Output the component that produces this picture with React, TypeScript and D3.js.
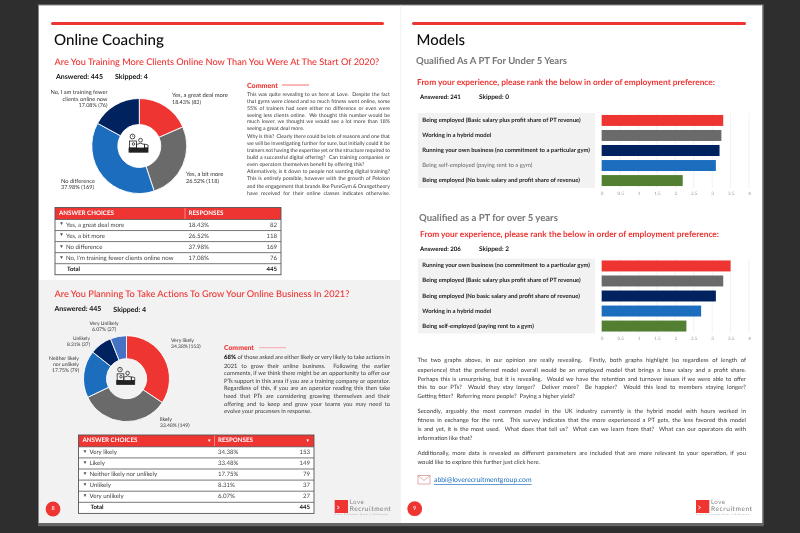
import React, { useEffect, useRef } from 'react';
import * as d3 from 'd3';

const RED = '#ee3432';
const GRAY = '#6b6b6b';
const BLUE = '#1c6dbd';
const NAVY = '#03205f';
const GREEN = '#527f30';
const LIGHT_BLUE = '#4472c4';
const FONT = 'Lato, sans-serif';

// donuts
const coachingCounts = [82, 118, 169, 76];
const coachingColors = [RED, GRAY, BLUE, NAVY];
const growthCounts = [153, 149, 79, 37, 27];
const growthColors = [RED, GRAY, BLUE, NAVY, LIGHT_BLUE];

// tables
const coachingChoices = ['Yes, a great deal more', 'Yes, a bit more', 'No difference', "No, I'm training fewer clients online now"];
const coachingPercents = ['18.43%', '26.52%', '37.98%', '17.08%'];
const growthChoices = ['Very likely', 'Likely', 'Neither likely nor unlikely', 'Unlikely', 'Very unlikely'];
const growthPercents = ['34.38%', '33.48%', '17.75%', '8.31%', '6.07%'];

// bars
const barTicks = [0, 0.5, 1, 1.5, 2, 2.5, 3, 3.5, 4];
const barColors = [RED, GRAY, NAVY, BLUE, GREEN];
const under5Labels = [
  'Being employed (Basic salary plus profit share of PT revenue)',
  'Working in a hybrid model',
  'Running your own business (no commitment to a particular gym)',
  'Being self-employed (paying rent to a gym)',
  'Being employed (No basic salary and profit share of revenue)',
];
const under5Values = [3.3, 3.25, 3.2, 3.1, 2.2];
const over5Labels = [
  'Running your own business (no commitment to a particular gym)',
  'Being employed (Basic salary plus profit share of PT revenue)',
  'Being employed (No basic salary and profit share of revenue)',
  'Working in a hybrid model',
  'Being self-employed (paying rent to a gym)',
];
const over5Values = [3.5, 3.3, 3.1, 2.7, 2.3];

// copy
const comment1 = [
  ['This was quite revealing to us here at Love.  Despite the fact', 95, 1],
  ['that gyms were closed and so much fitness went online, some', 101.8, 1],
  ['55% of trainers had seen either no difference or even were', 108.7, 1],
  ['seeing less clients online.  We thought this number would be', 115.6, 1],
  ['much lower, we thought we would see a lot more than 18%', 122.3, 1],
  ['seeing a great deal more.', 128.8, 0],
  ['Why is this?  Clearly there could be lots of reasons and one that', 137.3, 1],
  ['we will be investigating further for sure, but initially could it be', 144.3, 1],
  ['trainers not having the expertise yet or the structure required to', 151, 1],
  ['build a successful digital offering?  Can training companies or', 158, 1],
  ['even operators themselves benefit by offering this?', 165, 0],
  ['Alternatively, is it down to people not wanting digital training?', 172.3, 1],
  ['This is entirely possible, however with the growth of Peloton', 179, 1],
  ['and the engagement that brands like PureGym & Orangetheory', 186.7, 1],
  ['have received for their online classes indicates otherwise.', 193.7, 1],
] as [string, number, number][];
const comment2 = [
  ['of those asked are either likely or very likely to take actions in', 357.3, 1],
  ['2021 to grow their online business.  Following the earlier', 366, 1],
  ['comments, if we think there might be an opportunity to offer our', 373.3, 1],
  ['PTs support in this area if you are a training company or operator.', 381, 1],
  ['Regardless of this, if you are an operator reading this then take', 388.7, 1],
  ['heed that PTs are considering growing themselves and their', 396.3, 1],
  ['offering and to keep and grow your teams you may need to', 404, 1],
  ['evolve your processes in response.', 411.7, 0],
] as [string, number, number][];
const modelsCopy = [
  ['The two graphs above, in our opinion are really revealing.  Firstly, both graphs highlight (so regardless of length of', 360.3, 1],
  ['experience) that the preferred model overall would be an employed model that brings a base salary and a profit share.', 370, 1],
  ['Perhaps this is unsurprising, but it is revealing.  Would we have the retention and turnover issues if we were able to offer', 379, 1],
  ['this to our PTs?  Would they stay longer?  Deliver more?  Be happier?  Would this lead to members staying longer?', 387.3, 1],
  ['Getting fitter?  Referring more people?  Paying a higher yield?', 396, 0],
  ['Secondly, arguably the most common model in the UK industry currently is the hybrid model with hours worked in', 411.3, 1],
  ['fitness in exchange for the rent.  This survey indicates that the more experienced a PT gets, the less favored this model', 420.3, 1],
  ['is and yet, it is the most used.  What does that tell us?  What can we learn from that?  What can our operators do with', 429.3, 1],
  ['information like that?', 438.7, 0],
  ['Additionally, more data is revealed as different parameters are included that are more relevant to your operation, if you', 453.7, 1],
  ['would like to explore this further just click here.', 462.3, 0],
] as [string, number, number][];

const T = ({ x, y, size, fill = '#333', weight = 400, anchor = 'start', fit, w, spread, children, deco }: any) => (
  <text
    x={x}
    y={y}
    fontSize={size}
    fill={fill}
    fontWeight={weight}
    textAnchor={anchor}
    dominantBaseline="central"
    data-fit={fit}
    data-w={w}
    textLength={spread}
    textDecoration={deco}
    style={{ whiteSpace: 'pre' }}
  >
    {children}
  </text>
);

const Para = ({ lines, x, width, size }: any) => (
  <g>
    {lines.map((l: any, i: number) => (
      <T key={i} x={x} y={l[1]} size={size} fill="#3a3a3a" fit={l[2] ? width : undefined}>
        {l[0]}
      </T>
    ))}
  </g>
);

const CoachIcon = ({ x, y, k }: any) => (
  <g transform={`translate(${x},${y}) scale(${k})`} fill="none" stroke="#222" strokeWidth={0.8}>
    <circle cx={-6} cy={-7.5} r={2.4} />
    <path d="M-6 -8.8V-7.5H-5" strokeWidth={0.5} />
    <rect x={-9} y={-3} width={7} height={7} />
    <circle cx={-5} cy={0} r={1.3} />
    <circle cx={2} cy={-3.8} r={1.9} />
    <path d="M-2 4V0.5Q2 -2 6 0.5V4" />
    <path d="M6 0V4H9.5V1Z" />
    <rect x={-9.5} y={4} width={19} height={4.2} fill="#222" />
  </g>
);

const Donut = ({ counts, colors, cx, cy, r0, r1, k }: any) => {
  const arcs = d3.pie<number>().sort(null)(counts);
  const arc = d3.arc<d3.PieArcDatum<number>>().innerRadius(r0).outerRadius(r1);
  return (
    <g transform={`translate(${cx},${cy})`}>
      {arcs.map((a, i) => (
        <path key={i} d={arc(a) || ''} fill={colors[i]} stroke="#fff" strokeWidth={0.9} />
      ))}
      <CoachIcon x={-0.8} y={-2} k={k} />
    </g>
  );
};

const SurveyTable = ({ choices, percents, counts, x, x1, xSplit, y, headH, rowH, arrows }: any) => {
  const total = d3.sum(counts as number[]);
  const rows = [...choices, 'Total'];
  const h = headH + rows.length * rowH;
  return (
    <g>
      <rect x={x} y={y} width={x1 - x} height={h} fill="#fff" />
      <rect x={x} y={y} width={x1 - x} height={headH} fill={RED} />
      <line x1={xSplit} x2={xSplit} y1={y} y2={y + headH} stroke="#f59a98" strokeWidth={0.8} />
      <T x={x + 4} y={y + headH / 2} size={6} fill="#fff" weight={700} w={55}>ANSWER CHOICES</T>
      <T x={xSplit + 3.5} y={y + headH / 2} size={6} fill="#fff" weight={700} w={35}>RESPONSES</T>
      {arrows && <T x={xSplit - 3} y={y + headH / 2} size={4.5} fill="#fff" anchor="end">▼</T>}
      {arrows && <T x={x1 - 4} y={y + headH / 2} size={4.5} fill="#fff" anchor="end">▼</T>}
      {rows.map((r: string, i: number) => {
        const ry = y + headH + i * rowH;
        const mid = ry + rowH / 2;
        const isTotal = i === rows.length - 1;
        return (
          <g key={i}>
            <line x1={x} x2={x1} y1={ry} y2={ry} stroke="#555" strokeWidth={0.8} />
            {isTotal ? (
              <>
                <T x={x + 12} y={mid} size={6} weight={700} fill="#111">Total</T>
                <T x={x1 - 4} y={mid} size={6} weight={700} fill="#111" anchor="end">{total}</T>
              </>
            ) : (
              <>
                <T x={x + 4} y={mid - 0.6} size={5} fill="#555">▼</T>
                <T x={x + 11} y={mid} size={6.1} fill="#444">{r}</T>
                <T x={xSplit + 3.5} y={mid} size={6.1} fill="#444">{percents[i]}</T>
                <T x={x1 - 4} y={mid} size={6.1} fill="#444" anchor="end">{counts[i]}</T>
              </>
            )}
          </g>
        );
      })}
      <rect x={x} y={y} width={x1 - x} height={h} fill="none" stroke="#555" strokeWidth={0.9} />
    </g>
  );
};

const BarPanel = ({ labels, values, top, bold = [] }: any) => {
  const axisRef = useRef<SVGGElement>(null);
  const x = d3.scaleLinear().domain([0, 4]).range([601.7, 749]);
  const y = d3.scaleBand<string>().domain(labels).range([top, top + 75]).paddingInner(0.27).paddingOuter(0.13);

  useEffect(() => {
    const axis = d3.select(axisRef.current);
    axis.selectAll('*').remove();
    axis.call(d3.axisBottom(x).tickValues(barTicks).tickSize(0).tickPadding(2.5).tickFormat(d3.format('~g') as any) as any);
    axis.select('.domain').remove();
    axis.selectAll('text').attr('font-size', 4.6).attr('fill', '#999').attr('font-family', FONT);
  }, []);

  return (
    <g>
      <rect x={418} y={top} width={177} height={75} fill="#f2f2f2" />
      {barTicks.map((t) => (
        <line key={t} x1={x(t)} x2={x(t)} y1={top} y2={top + 75} stroke="#ededed" strokeWidth={0.7} />
      ))}
      {labels.map((l: string, i: number) => (
        <g key={l}>
          <rect x={x(0)} y={y(l)} width={x(values[i]) - x(0)} height={y.bandwidth()} fill={barColors[i]} />
          <T
            x={422.3}
            y={(y(l) as number) + y.bandwidth() / 2}
            size={5.9}
            weight={bold[i] === 0 ? 400 : 700}
            fill={bold[i] === 0 ? '#666' : '#222'}
          >
            {l}
          </T>
        </g>
      ))}
      <g ref={axisRef} transform={`translate(0,${top + 76})`} />
    </g>
  );
};

const Logo = ({ x, y }: any) => (
  <g>
    <rect x={x} y={y} width={13.3} height={13} fill={RED} />
    <path d={`M${x + 2.5} ${y + 6}l2 1.5l-2 1.5`} fill="none" stroke="#fff" strokeWidth={0.9} />
    <T x={x + 15} y={y + 2.6} size={6.2} fill="#888" spread={14}>Love</T>
    <T x={x + 15} y={y + 9.4} size={6.6} fill="#777" spread={41}>Recruitment</T>
    <T x={x} y={y + 15.2} size={2.1} fill="#999" spread={53}>Every Placement Makes A Difference</T>
  </g>
);

const App = () => {
  const svgRef = useRef<SVGSVGElement>(null);

  useEffect(() => {
    const svg = d3.select(svgRef.current);
    // headings: scale the size until the line is as wide as on the page
    svg.selectAll<SVGTextElement, unknown>('text[data-w]').each(function () {
      const target = +(this.getAttribute('data-w') as string);
      const size = +(this.getAttribute('font-size') as string);
      this.setAttribute('font-size', String((size * target) / this.getComputedTextLength()));
    });
    // stretch justified lines by word spacing, like the page layout did
    svg.selectAll<SVGTextElement, unknown>('text[data-fit]').each(function () {
      const target = +(this.getAttribute('data-fit') as string);
      const spaces = (this.textContent || '').split(' ').length - 1;
      if (spaces > 0) this.style.wordSpacing = `${(target - this.getComputedTextLength()) / spaces}px`;
    });
  }, []);

  return (
    <svg
      ref={svgRef}
      width={800}
      height={533}
      fontFamily={FONT}
      textRendering="geometricPrecision"
      style={{ position: 'absolute', left: 0, top: 0 }}
    >
      <defs>
        <filter id="soft" x="0" y="0" width="800" height="533" filterUnits="userSpaceOnUse">
          <feGaussianBlur stdDeviation={0.35} />
        </filter>
      </defs>
      <rect width={800} height={533} fill="#2e2e2e" />
      <g filter="url(#soft)">
        <rect x={38} y={4.5} width={725.5} height={521} fill="#8a8a8a" />
        <rect x={39} y={5.5} width={723} height={517.5} fill="#fff" />
        <rect x={39} y={280} width={361} height={243} fill="#f2f2f2" />
        <line x1={400.5} x2={400.5} y1={5.5} y2={523} stroke="#f0f0f0" strokeWidth={0.8} />
        <rect x={38} y={523} width={725.5} height={3.2} fill="#666" />

        {/* left page */}
        <rect x={51} y={22} width={333} height={3} rx={1.5} fill={RED} />
        <T x={54} y={40} size={15.3} weight={500} fill="#0a0a0a" w={110}>Online Coaching</T>
        <T x={54.5} y={61.5} size={9.4} fill={RED} weight={500} w={324.5}>Are You Training More Clients Online Now Than You Were At The Start Of 2020?</T>
        <T x={56} y={76.5} size={6.9} weight={700} fill="#111" w={47}>Answered: 445</T>
        <T x={115} y={76.5} size={6.9} weight={700} fill="#111" w={33}>Skipped: 4</T>

        <Donut counts={coachingCounts} colors={coachingColors} cx={139.3} cy={146} r0={21.5} r1={47.5} k={1} />
        <T x={172} y={95.7} size={5.5} w={56}>Yes, a great deal more</T>
        <T x={172} y={102.5} size={5.5} w={29}>18.43% (82)</T>
        <T x={186} y={174.7} size={5.5} w={37.5}>Yes, a bit more</T>
        <T x={186} y={181} size={5.5} w={33}>26.52% (118)</T>
        <T x={61} y={181} size={5.5} w={34}>No difference</T>
        <T x={61} y={187.7} size={5.5} w={33}>37.98% (169)</T>
        <T x={107.5} y={92.7} size={5.6} anchor="end" w={57}>No, I am training fewer</T>
        <T x={107.5} y={99.5} size={5.6} anchor="end" w={45}>clients online now</T>
        <T x={107.5} y={105.5} size={5.6} anchor="end" w={29}>17.08% (76)</T>

        <T x={247} y={85} size={7} weight={900} fill={RED} w={31}>Comment</T>
        <line x1={282} x2={309} y1={85} y2={85} stroke={RED} strokeWidth={0.7} />
        <Para lines={comment1} x={247} width={143} size={5.25} />

        <SurveyTable choices={coachingChoices} percents={coachingPercents} counts={coachingCounts}
          x={55} x1={281} xSplit={185} y={207.5} headH={12} rowH={11.05} />

        <T x={54.5} y={293.7} size={9.2} fill={RED} weight={500} w={294.5}>Are You Planning To Take Actions To Grow Your Online Business In 2021?</T>
        <T x={54.5} y={309.3} size={7} weight={700} fill="#111" w={47}>Answered: 445</T>
        <T x={113.3} y={309.3} size={7} weight={700} fill="#111" w={33}>Skipped: 4</T>

        <Donut counts={growthCounts} colors={growthColors} cx={126.5} cy={378.7} r0={20} r1={43} k={0.95} />
        <T x={171} y={340.7} size={4.7} w={23}>Very likely</T>
        <T x={171} y={346.7} size={4.7} w={29.5}>34.38% (153)</T>
        <T x={160} y={420} size={4.7} w={12}>likely</T>
        <T x={160} y={426} size={4.7} w={29.5}>33.48% (149)</T>
        <T x={79} y={359} size={4.7} anchor="end" w={30}>Neither likely</T>
        <T x={79} y={365} size={4.7} anchor="end" w={26}>nor unlikely</T>
        <T x={79} y={371} size={4.7} anchor="end" w={27}>17.75% (79)</T>
        <T x={90} y={338.7} size={4.7} anchor="end" w={17}>Unlikely</T>
        <T x={90} y={344.7} size={4.7} anchor="end" w={23}>8.31% (37)</T>
        <T x={104} y={324} size={4.7} anchor="middle" w={29}>Very Unlikely</T>
        <T x={104} y={330} size={4.7} anchor="middle" w={24}>6.07% (27)</T>

        <T x={224} y={347.7} size={7} weight={900} fill={RED} w={30}>Comment</T>
        <line x1={259} x2={286} y1={347.7} y2={347.7} stroke="#f4a3a2" strokeWidth={0.9} />
        <T x={224} y={357.3} size={5.8} weight={900} fill="#111" w={12}>68%</T>
        <Para lines={comment2.slice(0, 1)} x={237.5} width={152.5} size={5.8} />
        <Para lines={comment2.slice(1)} x={224} width={166} size={5.8} />

        <SurveyTable choices={growthChoices} percents={growthPercents} counts={growthCounts}
          x={78.5} x1={314} xSplit={214.5} y={435} headH={11.8} rowH={11.1} arrows />

        <circle cx={53} cy={509} r={7.4} fill={RED} />
        <T x={53} y={509} size={5.5} fill="#fff" anchor="middle">8</T>
        <Logo x={334.7} y={500} />

        {/* right page */}
        <rect x={412} y={22} width={334} height={3} rx={1.5} fill={RED} />
        <T x={416.5} y={40} size={15.3} weight={500} fill="#0a0a0a" w={48.5}>Models</T>
        <T x={416} y={61} size={9.6} weight={700} fill="#777" w={151}>Qualified As A PT For Under 5 Years</T>
        <T x={417} y={81.5} size={9.2} weight={700} fill={RED} w={298}>From your experience, please rank the below in order of employment preference:</T>
        <T x={420} y={97.5} size={5.8} weight={700} fill="#111" w={41}>Answered: 241</T>
        <T x={479} y={97.5} size={5.8} weight={700} fill="#111" w={30}>Skipped: 0</T>
        <BarPanel labels={under5Labels} values={under5Values} top={113} bold={[1, 1, 1, 0, 1]} />

        <T x={419} y={218} size={9.6} weight={700} fill="#777" w={139}>Qualified as a PT for over 5 years</T>
        <T x={420} y={234} size={9.2} weight={700} fill={RED} w={299}>From your experience, please rank the below in order of employment preference:</T>
        <T x={420} y={249} size={5.8} weight={700} fill="#111" w={41}>Answered: 206</T>
        <T x={479} y={249} size={5.8} weight={700} fill="#111" w={30}>Skipped: 2</T>
        <BarPanel labels={over5Labels} values={over5Values} top={258.5} />

        <Para lines={modelsCopy} x={417.5} width={328.5} size={5.9} />

        <rect x={418} y={475.5} width={12} height={8.5} fill="#fff" stroke="#c77" strokeWidth={0.6} />
        <path d="M418 475.5L424 480.5L430 475.5" fill="none" stroke="#c77" strokeWidth={0.6} />
        <T x={434} y={480} size={6.6} fill="#1c6dbd" deco="underline" w={97.5}>abbi@loverecruitmentgroup.com</T>

        <circle cx={414.7} cy={508.7} r={7.4} fill={RED} />
        <T x={414.7} y={508.7} size={5.5} fill="#fff" anchor="middle">9</T>
        <Logo x={696} y={500} />
      </g>
    </svg>
  );
};

export default App;
